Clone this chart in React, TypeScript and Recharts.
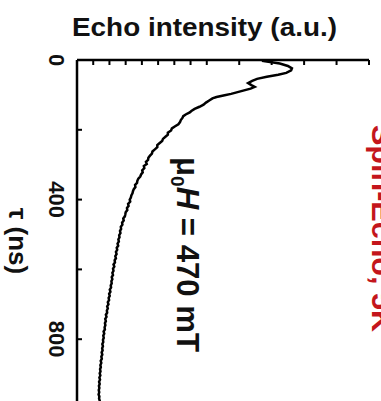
import { LineChart, Line, XAxis, YAxis } from 'recharts';

// delay tau (ns)
const tau = [
    2, 6, 10, 17, 24, 30, 37, 42, 48, 54, 60, 66, 72, 77, 82, 87, 92, 97, 101, 106,
    110, 116, 122, 128, 134, 140, 146, 150, 156, 161, 166, 172, 178, 184, 190, 196, 202, 208, 214, 220,
    226, 232, 238, 244, 250, 256, 262, 268, 274, 280, 286, 292, 298, 304, 310, 316, 322, 328, 334, 340,
    346, 352, 358, 364, 370, 376, 382, 388, 394, 400, 406, 412, 418, 424, 430, 436, 442, 448, 454, 460,
    466, 472, 478, 484, 490, 496, 502, 508, 514, 520, 526, 532, 538, 544, 550, 556, 562, 568, 574, 580,
    586, 592, 598, 604, 610, 616, 622, 628, 634, 640, 646, 652, 658, 664, 670, 676, 682, 688, 694, 700,
    706, 712, 718, 724, 730, 736, 742, 748, 754, 760, 766, 772, 778, 784, 790, 796, 802, 808, 814, 820,
    826, 832, 838, 844, 850, 856, 862, 868, 874, 880, 886, 892, 898, 904, 910, 916, 922, 928, 934, 940,
    946, 952, 958, 964, 970, 976, 982,
];

// echo intensity (a.u.)
const intensity = [
    11.4, 11.9, 12.5, 13.0, 13.25, 13.2, 12.9, 12.4, 11.7, 11.1, 10.8, 10.55, 10.75, 10.95, 10.7, 10.3, 9.9, 9.5, 9.1, 8.6,
    8.35, 8.15, 7.95, 7.8, 7.55, 7.25, 7.05, 6.95, 6.7, 6.55, 6.5, 6.4, 6.35, 6.25, 6.05, 5.85, 5.8, 5.6, 5.6, 5.45,
    5.3, 5.25, 5.1, 4.95, 4.95, 4.8, 4.65, 4.62, 4.5, 4.4, 4.38, 4.25, 4.3, 4.12, 4.15, 4.02, 4.05, 3.95, 3.9, 3.78,
    3.72, 3.7, 3.58, 3.6, 3.5, 3.45, 3.42, 3.35, 3.32, 3.25, 3.28, 3.15, 3.18, 3.08, 3.1, 3.0, 2.98, 2.95, 2.85, 2.88,
    2.78, 2.8, 2.7, 2.72, 2.65, 2.68, 2.6, 2.62, 2.55, 2.58, 2.5, 2.54, 2.45, 2.48, 2.4, 2.44, 2.36, 2.4, 2.32, 2.34,
    2.25, 2.3, 2.22, 2.25, 2.18, 2.22, 2.14, 2.18, 2.12, 2.14, 2.08, 2.1, 2.02, 2.06, 1.98, 2.02, 1.95, 1.98, 1.9, 1.94,
    1.86, 1.9, 1.84, 1.86, 1.78, 1.82, 1.74, 1.78, 1.72, 1.75, 1.7, 1.72, 1.64, 1.68, 1.62, 1.65, 1.6, 1.62, 1.56, 1.6,
    1.55, 1.58, 1.52, 1.56, 1.5, 1.53, 1.46, 1.5, 1.44, 1.47, 1.42, 1.45, 1.4, 1.44, 1.38, 1.42, 1.36, 1.4, 1.35, 1.38,
    1.34, 1.37, 1.33, 1.38, 1.36, 1.4, 1.37,
];

const tauTicks = [0, 200, 400, 600, 800, 1000];
const tauLabels = [0, 400, 800];
const intensityTicks = [1, 2, 3, 4, 5, 6, 7, 8, 9, 10, 11, 12, 13, 14, 15, 16, 17, 18];

const data = tau.map((t, i) => ({ tau: t, intensity: intensity[i] }));

const font = 'Arial, "Liberation Sans", sans-serif';

function TauTick(props: any) {
    const { y, payload } = props;
    if (!tauLabels.includes(payload.value)) return <g />;
    return (
        <text
            transform={`translate(49, ${y}) rotate(90)`}
            textAnchor="middle"
            fontFamily={font}
            fontWeight="bold"
            fontSize={22}
            fill="#111"
        >
            {payload.value}
        </text>
    );
}

export default function App() {
    return (
        <div style={{ position: 'absolute', left: 0, top: 0, width: 381, height: 401, overflow: 'hidden', background: '#fff' }}>
            <LineChart
                width={381}
                height={409}
                data={data}
                layout="vertical"
                margin={{ top: 40, right: 12, left: 57, bottom: 0 }}
            >
                <XAxis
                    type="number"
                    orientation="top"
                    domain={[0, 18]}
                    ticks={intensityTicks}
                    height={20}
                    allowDataOverflow
                    axisLine={{ stroke: '#000', strokeWidth: 2.5 }}
                    tickLine={{ stroke: '#000', strokeWidth: 2 }}
                    tickSize={-5}
                    tick={() => <g />}
                />
                <YAxis
                    type="number"
                    dataKey="tau"
                    domain={[0, 1000]}
                    ticks={tauTicks}
                    width={20}
                    allowDataOverflow
                    axisLine={{ stroke: '#000', strokeWidth: 2.5 }}
                    tickLine={{ stroke: '#000', strokeWidth: 2 }}
                    tickSize={-5}
                    tick={TauTick}
                />
                <Line
                    type="linear"
                    dataKey="intensity"
                    stroke="#000"
                    strokeWidth={2.5}
                    dot={false}
                    isAnimationActive={false}
                />
                <text
                    x={72}
                    y={36}
                    fontFamily={font}
                    fontWeight="bold"
                    fontSize={26}
                    fill="#111"
                    textLength={265}
                    lengthAdjust="spacingAndGlyphs"
                >
                    Echo intensity (a.u.)
                </text>
                <text
                    transform="translate(9, 241) rotate(90)"
                    textAnchor="middle"
                    fontFamily={font}
                    fontWeight="bold"
                    fontSize={26}
                    fill="#111"
                >
                    τ (ns)
                </text>
                <text
                    transform="translate(177, 157) rotate(90)"
                    fontFamily={font}
                    fontWeight="bold"
                    fontSize={31}
                    fill="#111"
                    textLength={195}
                    lengthAdjust="spacingAndGlyphs"
                >
                    μ<tspan fontSize={19} dy={6}>0</tspan>
                    <tspan fontStyle="italic" dy={-6}>H</tspan> = 470 mT
                </text>
                <text
                    transform="translate(372, 125) rotate(90)"
                    fontFamily={font}
                    fontWeight="bold"
                    fontSize={30}
                    fill="#c4161c"
                    textLength={207}
                    lengthAdjust="spacingAndGlyphs"
                >
                    Spin-Echo, 5K
                </text>
            </LineChart>
        </div>
    );
}
